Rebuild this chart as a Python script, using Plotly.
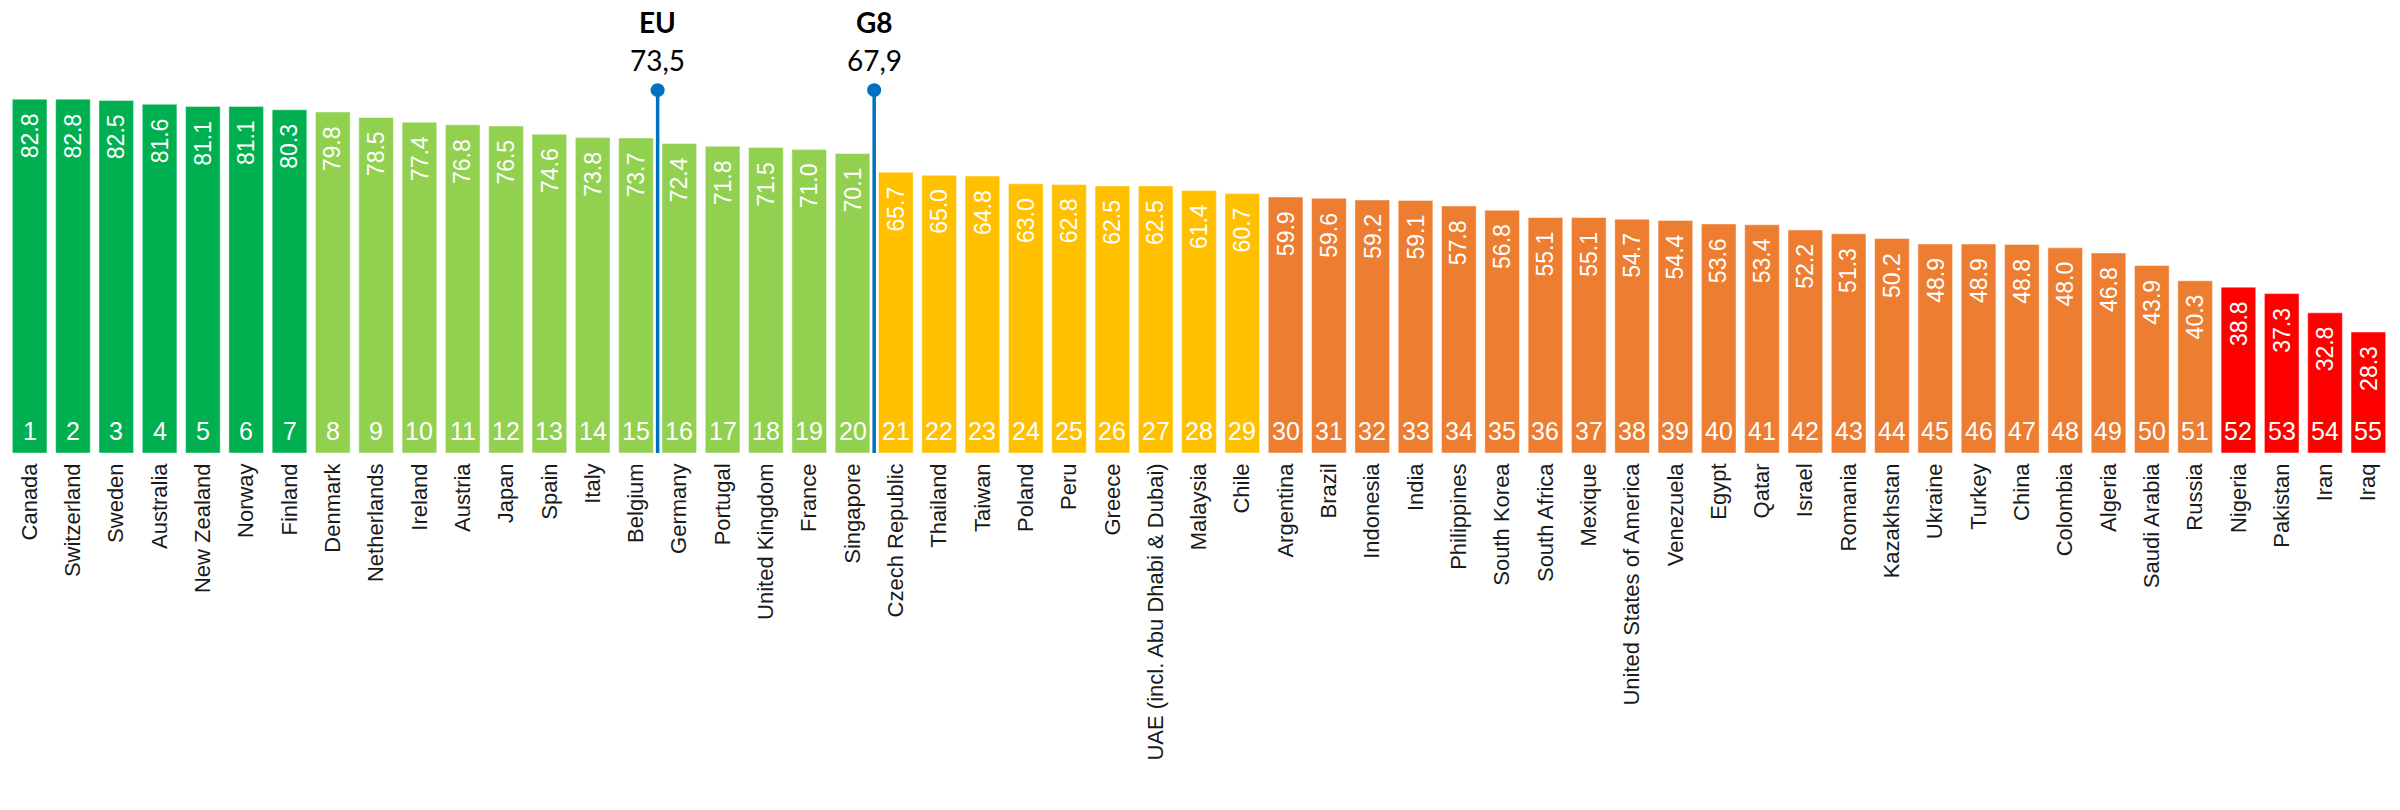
import plotly.graph_objects as go

countries = ["Canada", "Switzerland", "Sweden", "Australia", "New Zealand", "Norway", "Finland",
             "Denmark", "Netherlands", "Ireland", "Austria", "Japan", "Spain", "Italy", "Belgium",
             "Germany", "Portugal", "United Kingdom", "France", "Singapore",
             "Czech Republic", "Thailand", "Taiwan", "Poland", "Peru", "Greece",
             "UAE (incl. Abu Dhabi & Dubai)", "Malaysia", "Chile",
             "Argentina", "Brazil", "Indonesia", "India", "Philippines", "South Korea", "South Africa",
             "Mexique", "United States of America", "Venezuela", "Egypt", "Qatar", "Israel", "Romania",
             "Kazakhstan", "Ukraine", "Turkey", "China", "Colombia", "Algeria", "Saudi Arabia", "Russia",
             "Nigeria", "Pakistan", "Iran", "Iraq"]
scores = [82.8, 82.8, 82.5, 81.6, 81.1, 81.1, 80.3,
          79.8, 78.5, 77.4, 76.8, 76.5, 74.6, 73.8, 73.7,
          72.4, 71.8, 71.5, 71.0, 70.1,
          65.7, 65.0, 64.8, 63.0, 62.8, 62.5, 62.5, 61.4, 60.7,
          59.9, 59.6, 59.2, 59.1, 57.8, 56.8, 55.1, 55.1, 54.7, 54.4, 53.6, 53.4, 52.2, 51.3,
          50.2, 48.9, 48.9, 48.8, 48.0, 46.8, 43.9, 40.3,
          38.8, 37.3, 32.8, 28.3]
ranks = list(range(1, len(countries) + 1))
tiers = [1] * 7 + [2] * 13 + [3] * 9 + [4] * 22 + [5] * 4
tier_colors = {1: "#00B050", 2: "#92D050", 3: "#FFC000", 4: "#ED7D31", 5: "#FF0000"}

ref_names = ["EU", "G8"]
ref_values = ["73,5", "67,9"]
ref_after = ["Belgium", "Singapore"]

x = list(range(len(countries)))
Y_TOP = 106
MARK_Y = 84.9

fig = go.Figure()
fig.add_trace(go.Bar(
    x=x, y=scores,
    marker=dict(color=[tier_colors[t] for t in tiers], line=dict(width=1, color="rgba(255,255,255,0.45)")),
    hoverinfo="skip", showlegend=False,
))

for name, val, after in zip(ref_names, ref_values, ref_after):
    xp = countries.index(after) + 0.5
    fig.add_trace(go.Scatter(x=[xp, xp], y=[0, MARK_Y], mode="lines",
                             line=dict(color="#0070C0", width=3.5), showlegend=False, hoverinfo="skip"))
    fig.add_trace(go.Scatter(x=[xp], y=[MARK_Y], mode="markers",
                             marker=dict(color="#0070C0", size=14), showlegend=False, hoverinfo="skip"))
    fig.add_annotation(x=xp, y=MARK_Y, yref="y", xref="x", text=val, showarrow=False,
                       yshift=30, font=dict(family="Lato, Open Sans", size=28, color="#000"))
    fig.add_annotation(x=xp, y=MARK_Y, yref="y", xref="x", text="<b>" + name + "</b>", showarrow=False,
                       yshift=68, font=dict(family="Lato, Open Sans", size=28, color="#000"))

for xi, s, r in zip(x, scores, ranks):
    fig.add_annotation(x=xi, y=s, xref="x", yref="y", text=f"{s:.1f}", textangle=-90,
                       showarrow=False, yanchor="top", yshift=-12,
                       font=dict(family="Liberation Sans Narrow, Liberation Sans, Arial", size=23, color="white"))
    fig.add_annotation(x=xi, y=0, xref="x", yref="y", text=str(r),
                       showarrow=False, yanchor="middle", yshift=22,
                       font=dict(family="Liberation Sans Narrow, Liberation Sans, Arial", size=25, color="white"))

fig.update_layout(
    width=2400, height=810,
    margin=dict(l=8, r=10, t=0, b=357),
    plot_bgcolor="white", paper_bgcolor="white",
    bargap=0.2,
    xaxis=dict(tickmode="array", tickvals=x, ticktext=countries, tickangle=-90,
               range=[-0.5, len(countries) - 0.5], showgrid=False, zeroline=False, showline=False,
               ticks="", ticklabelstandoff=5,
               tickfont=dict(family="Liberation Sans, Arial", size=22, color="#1a1a1a")),
    yaxis=dict(range=[0, Y_TOP], visible=False, showgrid=False, zeroline=False),
)

fig.write_html("out.html")
